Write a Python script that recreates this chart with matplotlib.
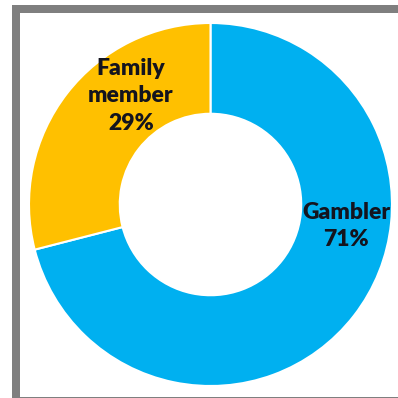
import matplotlib
matplotlib.use("Agg")
import matplotlib.pyplot as plt
from matplotlib.patches import Rectangle

# Share of calls by caller type
categories = ["Gambler", "Family\nmember"]
shares = [71, 29]
colors = ["#00B0F0", "#FFC000"]

W = H = 398
fig = plt.figure(figsize=(W / 100, H / 100), dpi=100)
fig.patch.set_facecolor("white")
ax = fig.add_axes([0, 0, 1, 1])

# Frame: thick grey band on top and left, thin line along the bottom
frame = "#7f7f7f"
ax.add_patch(Rectangle((11.5, H - 13), W - 11.5, 8, color=frame, lw=0))
ax.add_patch(Rectangle((11.5, 0), 8, H - 5, color=frame, lw=0))
ax.add_patch(Rectangle((19.5, 0), W - 19.5, 1.4, color=frame, lw=0))

cx, cy, r = 210.5, H - 204.5, 181.5
ax.pie(shares, colors=colors, startangle=90, counterclock=False,
       center=(cx, cy), radius=r, frame=True,
       wedgeprops=dict(width=r * 0.5, edgecolor="white", linewidth=1.5))
ax.set_xlim(0, W)
ax.set_ylim(0, H)
ax.set_aspect("equal")
ax.axis("off")

label_pos = [(346, H - 226), (131, H - 96)]
for name, val, (x, y) in zip(categories, shares, label_pos):
    ax.text(x, y, f"{name}\n{val}%", ha="center", va="center",
            fontsize=16.5, fontweight="heavy", family="Lato",
            color="#14141e", linespacing=1.38)

fig.savefig("out.png", dpi=100, facecolor="white")
